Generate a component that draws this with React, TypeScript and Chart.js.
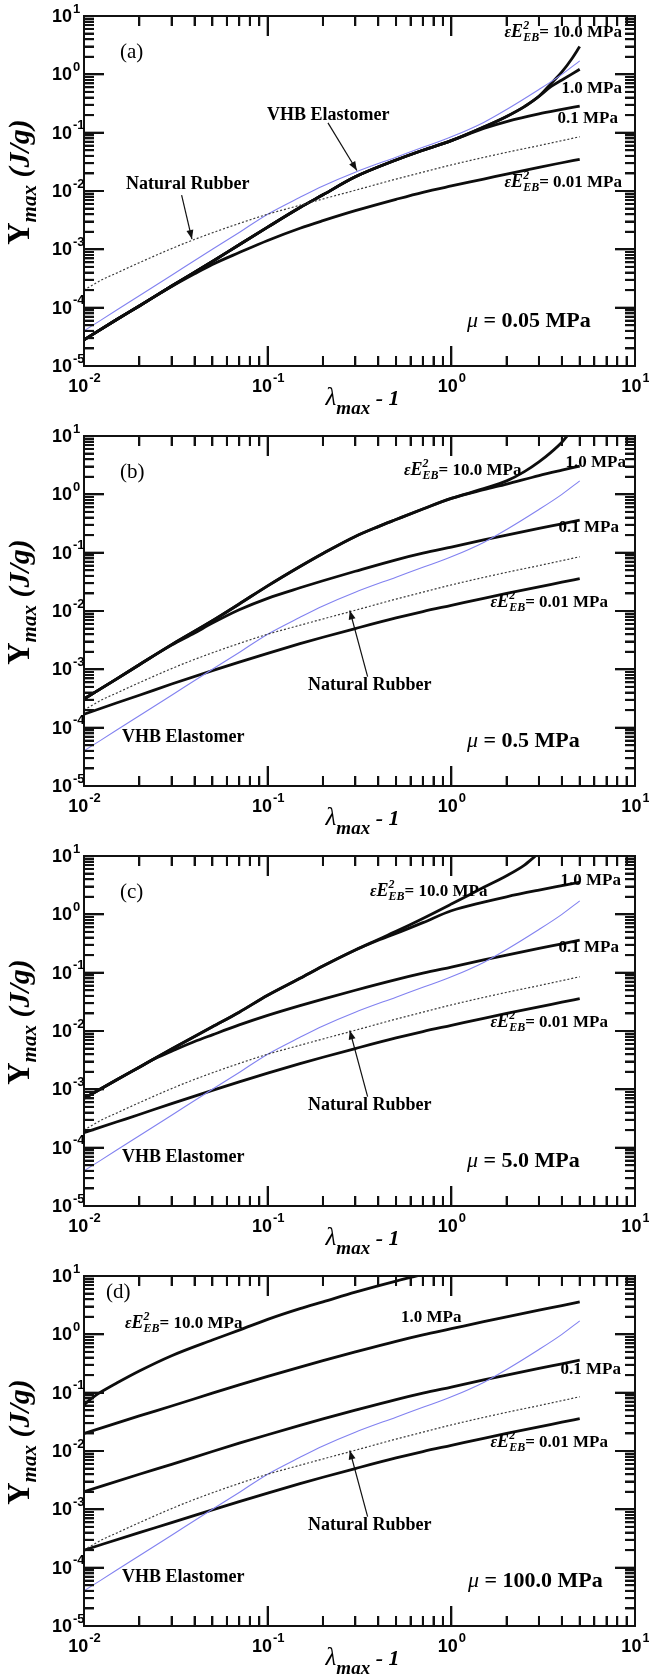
import React, { useEffect, useRef } from 'react';
import { Chart, registerables } from 'chart.js';

Chart.register(...registerables);

type P = [number, number];

// ---------------- data (x = lambda_max - 1, y = Y_max in J/g) ----------------
const VHB_ELASTOMER: P[] = [
  [0.01, 4.0e-5], [0.015, 9.0e-5], [0.02, 1.6e-4], [0.03, 3.6e-4], [0.05, 1.0e-3], [0.07, 1.95e-3],
  [0.1, 4.0e-3], [0.15, 7.8e-3], [0.2, 0.0122], [0.3, 0.021], [0.5, 0.038], [0.7, 0.056], [1, 0.085],
  [1.5, 0.15], [2, 0.25], [3, 0.55], [4, 1.0], [5, 1.7],
];
const NATURAL_RUBBER: P[] = [
  [0.01, 2.0e-4], [0.0125, 3.0e-4], [0.015, 3.9e-4], [0.02, 5.9e-4], [0.03, 1.03e-3], [0.04, 1.48e-3],
  [0.06, 2.35e-3], [0.1, 4.0e-3], [0.15, 5.7e-3], [0.2, 7.3e-3], [0.3, 0.0103], [0.5, 0.016], [0.7, 0.021],
  [1, 0.028], [2, 0.046], [3, 0.06], [5, 0.085],
];

// (a) mu = 0.05 MPa
const A_EPS_001: P[] = [
  [0.01, 2.8e-5], [0.015, 6.2e-5], [0.02, 1.07e-4], [0.03, 2.3e-4], [0.04, 3.8e-4], [0.05, 5.5e-4],
  [0.07, 8.8e-4], [0.1, 1.42e-3], [0.15, 2.3e-3], [0.2, 3.1e-3], [0.3, 4.6e-3], [0.5, 7.2e-3],
  [0.7, 9.5e-3], [1, 0.0122], [1.5, 0.016], [2, 0.0195], [3, 0.0255], [4, 0.0305], [5, 0.035],
];
const A_EPS_01: P[] = [
  [0.01, 2.8e-5], [0.015, 6.2e-5], [0.02, 1.07e-4], [0.03, 2.35e-4], [0.05, 6.2e-4], [0.07, 1.2e-3],
  [0.1, 2.4e-3], [0.15, 5.2e-3], [0.2, 8.6e-3], [0.3, 0.0175], [0.5, 0.034], [0.7, 0.05], [1, 0.073],
  [1.5, 0.118], [2, 0.155], [3, 0.21], [4, 0.25], [5, 0.285],
];
const A_EPS_1: P[] = [
  [0.01, 2.8e-5], [0.015, 6.2e-5], [0.02, 1.07e-4], [0.03, 2.35e-4], [0.05, 6.2e-4], [0.07, 1.2e-3],
  [0.1, 2.4e-3], [0.15, 5.2e-3], [0.2, 8.6e-3], [0.3, 0.0175], [0.5, 0.034], [0.7, 0.05], [1, 0.073],
  [1.5, 0.125], [2, 0.19], [2.5, 0.28], [3, 0.42], [3.5, 0.62], [4, 0.8], [4.5, 1.0], [5, 1.22],
];
const A_EPS_10: P[] = [
  [0.01, 2.8e-5], [0.015, 6.2e-5], [0.02, 1.07e-4], [0.03, 2.35e-4], [0.05, 6.2e-4], [0.07, 1.2e-3],
  [0.1, 2.4e-3], [0.15, 5.2e-3], [0.2, 8.6e-3], [0.3, 0.0175], [0.5, 0.034], [0.7, 0.05], [1, 0.073],
  [1.5, 0.125], [2, 0.19], [2.5, 0.28], [3, 0.42], [3.5, 0.7], [4, 1.1], [4.5, 1.8], [5, 3.0],
];

// (b) mu = 0.5 MPa
const B_EPS_001: P[] = [
  [0.01, 1.7e-4], [0.015, 2.65e-4], [0.02, 3.6e-4], [0.03, 5.6e-4], [0.05, 9.5e-4], [0.07, 1.33e-3],
  [0.1, 1.88e-3], [0.15, 2.75e-3], [0.2, 3.55e-3], [0.3, 5.0e-3], [0.5, 7.6e-3], [0.7, 9.8e-3],
  [1, 0.0125], [1.5, 0.0165], [2, 0.02], [3, 0.026], [4, 0.0312], [5, 0.036],
];
const B_EPS_01: P[] = [
  [0.01, 3.1e-4], [0.015, 6.8e-4], [0.02, 1.2e-3], [0.03, 2.6e-3], [0.04, 4.2e-3], [0.05, 6.2e-3],
  [0.07, 0.0105], [0.1, 0.0165], [0.15, 0.025], [0.2, 0.033], [0.3, 0.048], [0.5, 0.0755], [0.7, 0.098],
  [1, 0.125], [1.5, 0.165], [2, 0.2], [3, 0.26], [4, 0.312], [5, 0.36],
];
const B_EPS_1: P[] = [
  [0.01, 3.1e-4], [0.015, 6.8e-4], [0.02, 1.2e-3], [0.03, 2.65e-3], [0.05, 6.8e-3], [0.07, 0.0132],
  [0.1, 0.027], [0.15, 0.058], [0.2, 0.097], [0.3, 0.19], [0.4, 0.28], [0.5, 0.37], [0.7, 0.56],
  [1, 0.85], [1.5, 1.2], [2, 1.5], [3, 2.1], [4, 2.6], [5, 3.05],
];
const B_EPS_10: P[] = [
  [0.01, 3.1e-4], [0.015, 6.8e-4], [0.02, 1.2e-3], [0.03, 2.65e-3], [0.05, 6.8e-3], [0.07, 0.0132],
  [0.1, 0.027], [0.15, 0.058], [0.2, 0.097], [0.3, 0.19], [0.4, 0.28], [0.5, 0.37], [0.7, 0.56],
  [1, 0.85], [1.5, 1.25], [2, 1.7], [2.5, 2.45], [3, 3.6], [3.5, 5.3], [4, 7.8], [4.3, 10.3],
];

// (c) mu = 5.0 MPa
const C_EPS_001: P[] = [
  [0.01, 1.8e-4], [0.015, 2.75e-4], [0.02, 3.7e-4], [0.03, 5.7e-4], [0.05, 9.6e-4], [0.07, 1.34e-3],
  [0.1, 1.89e-3], [0.15, 2.75e-3], [0.2, 3.55e-3], [0.3, 5.0e-3], [0.5, 7.6e-3], [0.7, 9.8e-3],
  [1, 0.0125], [1.5, 0.0165], [2, 0.02], [3, 0.026], [4, 0.0312], [5, 0.036],
];
const C_EPS_01: P[] = [
  [0.01, 7.0e-4], [0.015, 1.45e-3], [0.02, 2.4e-3], [0.025, 3.5e-3], [0.03, 4.5e-3], [0.04, 6.6e-3],
  [0.05, 8.6e-3], [0.07, 0.0127], [0.1, 0.0185], [0.15, 0.0272], [0.2, 0.0352], [0.3, 0.05],
  [0.5, 0.076], [0.7, 0.098], [1, 0.125], [1.5, 0.165], [2, 0.2], [3, 0.26], [4, 0.312], [5, 0.36],
];
const C_EPS_1: P[] = [
  [0.01, 7.0e-4], [0.015, 1.45e-3], [0.02, 2.4e-3], [0.03, 4.9e-3], [0.05, 0.0118], [0.07, 0.021],
  [0.1, 0.041], [0.15, 0.08], [0.2, 0.13], [0.3, 0.245], [0.4, 0.36], [0.5, 0.47], [0.7, 0.72],
  [1, 1.15], [1.5, 1.62], [2, 2.0], [3, 2.6], [4, 3.1], [5, 3.55],
];
const C_EPS_10: P[] = [
  [0.01, 7.0e-4], [0.015, 1.45e-3], [0.02, 2.4e-3], [0.03, 4.9e-3], [0.05, 0.0118], [0.07, 0.021],
  [0.1, 0.041], [0.15, 0.08], [0.2, 0.13], [0.3, 0.245], [0.4, 0.37], [0.5, 0.51], [0.7, 0.85],
  [1, 1.5], [1.5, 2.9], [2, 4.6], [2.5, 7.0], [2.9, 10.3],
];

// (d) mu = 100.0 MPa
const D_EPS_001: P[] = [
  [0.01, 2.0e-4], [0.02, 4.0e-4], [0.03, 5.9e-4], [0.05, 9.8e-4], [0.07, 1.36e-3], [0.1, 1.9e-3],
  [0.15, 2.75e-3], [0.2, 3.55e-3], [0.3, 5.0e-3], [0.5, 7.6e-3], [0.7, 9.8e-3], [1, 0.0125],
  [1.5, 0.0165], [2, 0.02], [3, 0.026], [4, 0.0312], [5, 0.036],
];
const D_EPS_01: P[] = [
  [0.01, 2.0e-3], [0.02, 4.0e-3], [0.03, 5.9e-3], [0.05, 9.8e-3], [0.07, 0.0136], [0.1, 0.019],
  [0.15, 0.0275], [0.2, 0.0355], [0.3, 0.05], [0.5, 0.076], [0.7, 0.098], [1, 0.125],
  [1.5, 0.165], [2, 0.2], [3, 0.26], [4, 0.312], [5, 0.36],
];
const D_EPS_1: P[] = [
  [0.01, 0.02], [0.02, 0.04], [0.03, 0.059], [0.05, 0.098], [0.07, 0.136], [0.1, 0.19],
  [0.15, 0.275], [0.2, 0.355], [0.3, 0.5], [0.5, 0.76], [0.7, 0.98], [1, 1.25],
  [1.5, 1.65], [2, 2.0], [3, 2.6], [4, 3.12], [5, 3.6],
];
const D_EPS_10: P[] = [
  [0.01, 0.062], [0.011, 0.08], [0.0125, 0.105], [0.015, 0.145], [0.02, 0.235], [0.03, 0.43],
  [0.05, 0.8], [0.07, 1.18], [0.1, 1.8], [0.15, 2.75], [0.2, 3.6], [0.3, 5.3], [0.5, 8.2], [0.7, 10.6],
];

// axis ticks
const X_MIN = 0.01;
const X_MAX = 10;
const Y_MIN = 1e-5;
const Y_MAX = 10;
const X_MAJOR_TICKS = [0.01, 0.1, 1, 10];
const X_MINOR_TICKS = [
  0.02, 0.03, 0.04, 0.05, 0.06, 0.07, 0.08, 0.09,
  0.2, 0.3, 0.4, 0.5, 0.6, 0.7, 0.8, 0.9,
  2, 3, 4, 5, 6, 7, 8, 9,
];
const Y_MAJOR_TICKS = [1e-5, 1e-4, 1e-3, 1e-2, 1e-1, 1, 10];
const Y_MINOR_TICKS = [
  2e-5, 3e-5, 4e-5, 5e-5, 6e-5, 7e-5, 8e-5, 9e-5,
  2e-4, 3e-4, 4e-4, 5e-4, 6e-4, 7e-4, 8e-4, 9e-4,
  2e-3, 3e-3, 4e-3, 5e-3, 6e-3, 7e-3, 8e-3, 9e-3,
  0.02, 0.03, 0.04, 0.05, 0.06, 0.07, 0.08, 0.09,
  0.2, 0.3, 0.4, 0.5, 0.6, 0.7, 0.8, 0.9,
  2, 3, 4, 5, 6, 7, 8, 9,
];
const X_DECADE_EXP = [-2, -1, 0, 1];
const Y_DECADE_EXP = [-5, -4, -3, -2, -1, 0, 1];

// ---------------- layout / styles ----------------
const W = 649;
const H = 420;
const SERIF = '"Liberation Serif", "Times New Roman", serif';
const SANS = '"Liberation Sans", Arial, sans-serif';
const MAJOR_LEN = 20;
const MINOR_LEN = 10;
const TICK_W = 2;

type Align = 'left' | 'right' | 'center';
type Pos = [number, number, Align];
type Labels = {
  tag: Pos; e10: Pos; m1: Pos; m01: Pos; e001: Pos; vhb: Pos; nr: Pos; mu: Pos;
  nrArrow: [P, P]; vhbArrow?: [P, P];
};
type PanelCfg = { tag: string; mu: string; series: P[][]; lab: Labels };

const LOWER_LABELS = {
  e001: [608, 187, 'right'] as Pos,
  nr: [308, 270, 'left'] as Pos,
  vhb: [122, 322, 'left'] as Pos,
  mu: [467, 327, 'left'] as Pos,
  nrArrow: [[0.35, 7.5e-4], [0.28, 0.0102]] as [P, P],
};

const PANELS: PanelCfg[] = [
  {
    tag: '(a)', mu: '0.05', series: [A_EPS_001, A_EPS_01, A_EPS_1, A_EPS_10],
    lab: {
      tag: [120, 58, 'left'], e10: [622, 37, 'right'], m1: [622, 93, 'right'], m01: [618, 123, 'right'],
      e001: [622, 187, 'right'], vhb: [267, 120, 'left'], nr: [126, 189, 'left'], mu: [467, 327, 'left'],
      nrArrow: [[0.034, 8.5e-3], [0.0387, 1.5e-3]], vhbArrow: [[0.213, 0.147], [0.306, 0.0225]],
    },
  },
  {
    tag: '(b)', mu: '0.5', series: [B_EPS_001, B_EPS_01, B_EPS_1, B_EPS_10],
    lab: {
      tag: [120, 58, 'left'], e10: [404, 55, 'left'], m1: [626, 47, 'right'], m01: [619, 112, 'right'],
      ...LOWER_LABELS,
    },
  },
  {
    tag: '(c)', mu: '5.0', series: [C_EPS_001, C_EPS_01, C_EPS_1, C_EPS_10],
    lab: {
      tag: [120, 58, 'left'], e10: [370, 56, 'left'], m1: [621, 45, 'right'], m01: [619, 112, 'right'],
      ...LOWER_LABELS,
    },
  },
  {
    tag: '(d)', mu: '100.0', series: [D_EPS_001, D_EPS_01, D_EPS_1, D_EPS_10],
    lab: {
      tag: [106, 38, 'left'], e10: [125, 68, 'left'], m1: [401, 62, 'left'], m01: [621, 114, 'right'],
      ...LOWER_LABELS, mu: [468, 327, 'left'],
    },
  },
];

// ---------------- rich text helpers ----------------
type Seg = { t: string; f: string; dy?: number; sup?: string; sub?: string };

function segW(ctx: CanvasRenderingContext2D, s: Seg): number {
  ctx.font = s.f;
  if (s.sup !== undefined) {
    return Math.max(ctx.measureText(s.sup).width, ctx.measureText(s.sub || '').width);
  }
  return ctx.measureText(s.t).width;
}

function drawSegs(ctx: CanvasRenderingContext2D, segs: Seg[], x: number, y: number, align: Align) {
  const w = segs.reduce((a, s) => a + segW(ctx, s), 0);
  let cx = align === 'left' ? x : align === 'right' ? x - w : x - w / 2;
  ctx.textAlign = 'left';
  ctx.textBaseline = 'alphabetic';
  for (const s of segs) {
    const sw = segW(ctx, s);
    ctx.font = s.f;
    if (s.sup !== undefined) {
      ctx.fillText(s.sup, cx, y - 8);
      ctx.fillText(s.sub || '', cx, y + 4);
    } else {
      ctx.fillText(s.t, cx, y + (s.dy || 0));
    }
    cx += sw;
  }
}

const epsSegs = (rest: string): Seg[] => [
  { t: 'ε', f: `italic bold 16px ${SERIF}` },
  { t: 'E', f: `italic bold 18px ${SERIF}` },
  { t: '', sup: '2', sub: 'EB', f: `italic bold 12px ${SERIF}` },
  { t: rest, f: `bold 17px ${SERIF}` },
];
const boldSegs = (t: string, size: number): Seg[] => [{ t, f: `bold ${size}px ${SERIF}` }];

function arrow(ctx: CanvasRenderingContext2D, x0: number, y0: number, x1: number, y1: number) {
  ctx.save();
  ctx.setLineDash([]);
  ctx.strokeStyle = '#111';
  ctx.fillStyle = '#111';
  ctx.lineWidth = 1.2;
  ctx.beginPath();
  ctx.moveTo(x0, y0);
  ctx.lineTo(x1, y1);
  ctx.stroke();
  const a = Math.atan2(y1 - y0, x1 - x0);
  const len = 9;
  const hw = 3.5;
  ctx.beginPath();
  ctx.moveTo(x1, y1);
  ctx.lineTo(x1 - len * Math.cos(a) + hw * Math.sin(a), y1 - len * Math.sin(a) - hw * Math.cos(a));
  ctx.lineTo(x1 - len * Math.cos(a) - hw * Math.sin(a), y1 - len * Math.sin(a) + hw * Math.cos(a));
  ctx.closePath();
  ctx.fill();
  ctx.restore();
}

// a label-less axis used only to draw inward tick marks on one side
function tickAxis(axis: 'x' | 'y', position: string, values: number[], len: number) {
  return {
    type: 'logarithmic',
    axis,
    position,
    min: axis === 'x' ? X_MIN : Y_MIN,
    max: axis === 'x' ? X_MAX : Y_MAX,
    display: true,
    afterBuildTicks: (s: any) => {
      s.ticks = values.map((v) => ({ value: v }));
    },
    afterFit: (s: any) => {
      if (axis === 'x') s.height = 0;
      else s.width = 0;
    },
    ticks: { display: false, autoSkip: false },
    grid: {
      display: true,
      drawOnChartArea: false,
      drawTicks: true,
      tickLength: -len,
      tickWidth: TICK_W,
      tickColor: '#111',
      lineWidth: TICK_W,
      z: 2,
    },
    border: { display: false },
    title: { display: false },
  };
}

function makeDecor(cfg: PanelCfg) {
  return {
    id: 'decor',
    beforeDraw(chart: any) {
      const c = chart.ctx as CanvasRenderingContext2D;
      c.save();
      c.fillStyle = '#fff';
      c.fillRect(0, 0, chart.width, chart.height);
      c.restore();
    },
    afterDraw(chart: any) {
      const c = chart.ctx as CanvasRenderingContext2D;
      const xs = chart.scales.x;
      const ys = chart.scales.y;
      const area = chart.chartArea;
      const aL = area.left;
      const aR = area.right;
      const aT = area.top;
      const aB = area.bottom;

      c.save();
      c.setLineDash([]);
      c.globalAlpha = 1;
      c.fillStyle = '#111';
      // inward tick marks on all four sides
      const xTicks = X_MAJOR_TICKS.map((v) => [v, MAJOR_LEN]).concat(X_MINOR_TICKS.map((v) => [v, MINOR_LEN]));
      xTicks.forEach(([v, len]) => {
        const px = xs.getPixelForValue(v);
        c.fillRect(px - TICK_W / 2, aB - len, TICK_W, len);
        c.fillRect(px - TICK_W / 2, aT, TICK_W, len);
      });
      const yTicks = Y_MAJOR_TICKS.map((v) => [v, MAJOR_LEN]).concat(Y_MINOR_TICKS.map((v) => [v, MINOR_LEN]));
      yTicks.forEach(([v, len]) => {
        const py = ys.getPixelForValue(v);
        c.fillRect(aL, py - TICK_W / 2, len, TICK_W);
        c.fillRect(aR - len, py - TICK_W / 2, len, TICK_W);
      });

      // frame
      c.strokeStyle = '#111';
      c.lineWidth = 2;
      c.strokeRect(aL, aT, aR - aL, aB - aT);

      // tick labels
      c.fillStyle = '#000';
      const fBig = `bold 18px ${SANS}`;
      const fExp = `bold 13px ${SANS}`;
      Y_DECADE_EXP.forEach((d) => {
        const py = ys.getPixelForValue(Math.pow(10, d));
        c.textBaseline = 'middle';
        c.font = fBig;
        c.textAlign = 'right';
        c.fillText('10', 72, py + 1);
        c.font = fExp;
        c.textAlign = 'left';
        c.fillText(String(d), 73, py - 7);
      });
      X_DECADE_EXP.forEach((d) => {
        const px = xs.getPixelForValue(Math.pow(10, d));
        c.textBaseline = 'alphabetic';
        c.font = fBig;
        const w1 = c.measureText('10').width;
        c.font = fExp;
        const w2 = c.measureText(String(d)).width;
        const x0 = px - (w1 + w2) / 2;
        c.font = fBig;
        c.textAlign = 'left';
        c.fillText('10', x0, aB + 26);
        c.font = fExp;
        c.fillText(String(d), x0 + w1 + 1, aB + 16);
      });

      // axis titles
      drawSegs(c, [
        { t: 'λ', f: `italic 25px ${SERIF}` },
        { t: 'max', f: `bold italic 19px ${SERIF}`, dy: 9 },
        { t: ' - 1', f: `bold italic 22px ${SERIF}` },
      ], (aL + aR) / 2 + 3, aB + 39, 'center');

      c.save();
      c.translate(29, aT + 166);
      c.rotate(-Math.PI / 2);
      drawSegs(c, [
        { t: 'Y', f: `bold 31px ${SERIF}` },
        { t: 'max', f: `bold italic 21px ${SERIF}`, dy: 7 },
        { t: ' (J/g)', f: `bold italic 30px ${SERIF}` },
      ], 0, 0, 'center');
      c.restore();

      // annotations
      const L = cfg.lab;
      c.fillStyle = '#000';
      drawSegs(c, [{ t: cfg.tag, f: `21px ${SERIF}` }], L.tag[0], L.tag[1], L.tag[2]);
      drawSegs(c, epsSegs('= 10.0 MPa'), L.e10[0], L.e10[1], L.e10[2]);
      drawSegs(c, boldSegs('1.0 MPa', 17), L.m1[0], L.m1[1], L.m1[2]);
      drawSegs(c, boldSegs('0.1 MPa', 17), L.m01[0], L.m01[1], L.m01[2]);
      drawSegs(c, epsSegs('= 0.01 MPa'), L.e001[0], L.e001[1], L.e001[2]);
      drawSegs(c, boldSegs('VHB Elastomer', 18), L.vhb[0], L.vhb[1], L.vhb[2]);
      drawSegs(c, boldSegs('Natural Rubber', 18), L.nr[0], L.nr[1], L.nr[2]);
      drawSegs(c, [
        { t: 'μ', f: `italic 22px ${SERIF}` },
        { t: ' = ' + cfg.mu + ' MPa', f: `bold 22px ${SERIF}` },
      ], L.mu[0], L.mu[1], L.mu[2]);
      c.restore();

      const arrows: [P, P][] = [L.nrArrow];
      if (L.vhbArrow) arrows.push(L.vhbArrow);
      arrows.forEach(([tail, tip]) => {
        arrow(c, xs.getPixelForValue(tail[0]), ys.getPixelForValue(tail[1]),
          xs.getPixelForValue(tip[0]), ys.getPixelForValue(tip[1]));
      });
    },
  };
}

const toXY = (arr: P[]) => arr.map(([x, y]) => ({ x, y }));

function Panel({ cfg }: { cfg: PanelCfg }) {
  const ref = useRef<HTMLCanvasElement>(null);
  useEffect(() => {
    const canvas = ref.current;
    if (!canvas) return;
    const black = cfg.series.map((s, i) => ({
      label: ['0.01', '0.1', '1.0', '10.0'][i] + ' MPa',
      data: toXY(s),
      borderColor: '#0d0d0d',
      borderWidth: 2.8,
      pointRadius: 0,
      fill: false,
    }));
    const chart = new Chart(canvas, {
      type: 'line',
      data: {
        datasets: [
          {
            label: 'Natural Rubber', data: toXY(NATURAL_RUBBER), borderColor: '#3a3a3a', borderWidth: 1.2,
            borderDash: [2, 2], pointRadius: 0, fill: false,
          },
          {
            label: 'VHB Elastomer', data: toXY(VHB_ELASTOMER), borderColor: '#8282f0', borderWidth: 1.1,
            pointRadius: 0, fill: false,
          },
          ...black,
        ],
      },
      options: {
        animation: false,
        responsive: false,
        maintainAspectRatio: false,
        devicePixelRatio: 1,
        layout: { padding: { left: 84, top: 16, right: W - 635, bottom: H - 366 } },
        elements: { line: { cubicInterpolationMode: 'monotone' }, point: { radius: 0 } },
        scales: {
          x: tickAxis('x', 'bottom', X_MINOR_TICKS, MINOR_LEN),
          xBottomMajor: tickAxis('x', 'bottom', X_MAJOR_TICKS, MAJOR_LEN),
          xTopMinor: tickAxis('x', 'top', X_MINOR_TICKS, MINOR_LEN),
          xTopMajor: tickAxis('x', 'top', X_MAJOR_TICKS, MAJOR_LEN),
          y: tickAxis('y', 'left', Y_MINOR_TICKS, MINOR_LEN),
          yLeftMajor: tickAxis('y', 'left', Y_MAJOR_TICKS, MAJOR_LEN),
          yRightMinor: tickAxis('y', 'right', Y_MINOR_TICKS, MINOR_LEN),
          yRightMajor: tickAxis('y', 'right', Y_MAJOR_TICKS, MAJOR_LEN),
        },
        plugins: { legend: { display: false }, tooltip: { enabled: false }, title: { display: false } },
        events: [],
      } as any,
      plugins: [makeDecor(cfg)],
    });
    return () => chart.destroy();
  }, [cfg]);
  return <canvas ref={ref} width={W} height={H} style={{ display: 'block', width: W, height: H }} />;
}

export default function App() {
  useEffect(() => {
    document.body.style.margin = '0';
    document.body.style.background = '#fff';
  }, []);
  return (
    <div style={{ width: W, background: '#fff' }}>
      {PANELS.map((p) => (
        <Panel key={p.tag} cfg={p} />
      ))}
    </div>
  );
}
